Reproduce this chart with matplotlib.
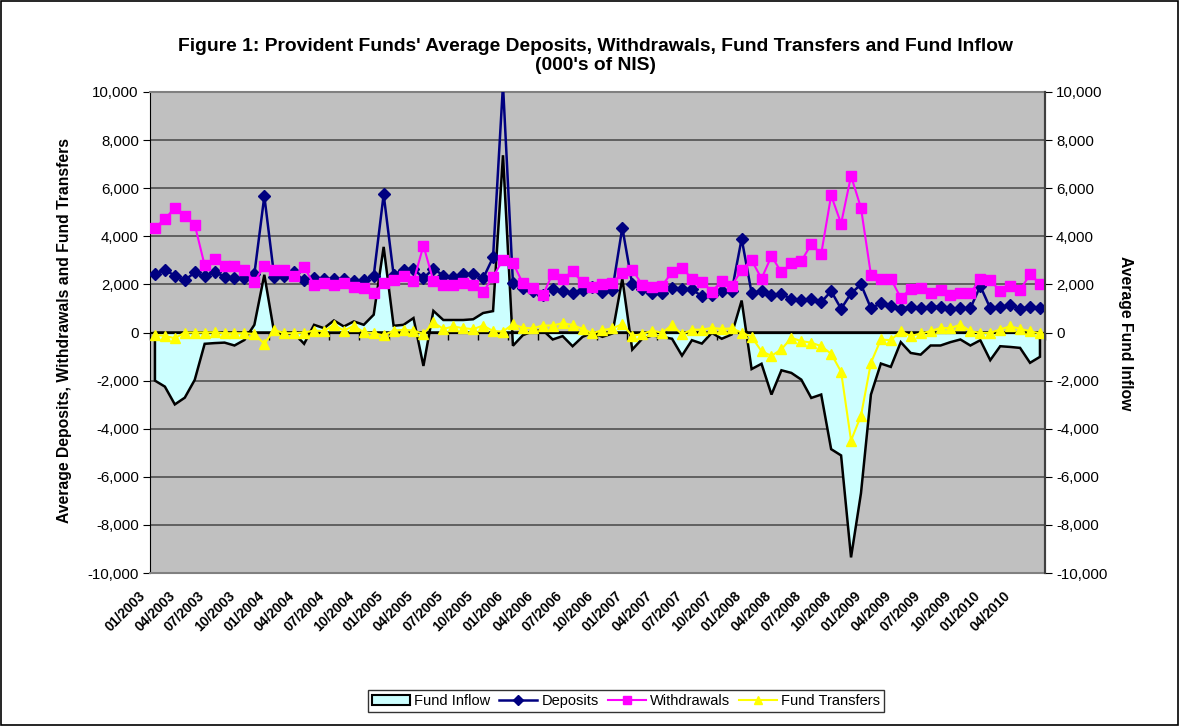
import matplotlib
matplotlib.use("Agg")
import matplotlib.pyplot as plt
from matplotlib.lines import Line2D
from matplotlib.patches import Patch, Rectangle
from matplotlib.ticker import FuncFormatter
from matplotlib.transforms import ScaledTranslation
import numpy as np

plt.rcParams["font.family"] = ["Liberation Sans", "DejaVu Sans"]

# monthly, 01/2003 .. 06/2010 (000's of NIS)
tick_labels = [
    "01/2003", "04/2003", "07/2003", "10/2003", "01/2004", "04/2004",
    "07/2004", "10/2004", "01/2005", "04/2005", "07/2005", "10/2005",
    "01/2006", "04/2006", "07/2006", "10/2006", "01/2007", "04/2007",
    "07/2007", "10/2007", "01/2008", "04/2008", "07/2008", "10/2008",
    "01/2009", "04/2009", "07/2009", "10/2009", "01/2010", "04/2010",
]

deposits = [
    2440, 2610, 2360, 2170, 2500, 2330, 2530, 2310, 2260, 2260, 2440, 5670,
    2310, 2360, 2500, 2170, 2260, 2220, 2220, 2220, 2130, 2170, 2360, 5740,
    2400, 2610, 2650, 2260, 2650, 2370, 2300, 2430, 2430, 2250, 3120, 10300,
    2070, 1860, 1720, 1580, 1820, 1720, 1650, 1760, 1900, 1680, 1760, 4360,
    2000, 1790, 1650, 1650, 1860, 1820, 1790, 1510, 1580, 1720, 1720, 3900,
    1650, 1720, 1540, 1620, 1375, 1350, 1375, 1260, 1720, 985, 1625, 2000,
    1010, 1210, 1100, 985, 1070, 1010, 1070, 1070, 985, 1010, 1010, 1930,
    1010, 1070, 1125, 985, 1070, 1010,
]

withdrawals = [
    4350, 4720, 5180, 4860, 4490, 2790, 3060, 2750, 2780, 2610, 2110, 2780,
    2580, 2580, 2360, 2720, 1990, 2060, 1990, 2060, 1890, 1850, 1640, 2060,
    2170, 2360, 2130, 3610, 2150, 1990, 1990, 2060, 1990, 1680, 2310, 3030,
    2900, 2040, 1870, 1550, 2450, 2220, 2550, 2080, 1910, 2000, 2070, 2480,
    2610, 1990, 1900, 1950, 2510, 2690, 2240, 2120, 1700, 2140, 1950, 2600,
    3010, 2240, 3180, 2500, 2870, 2970, 3670, 3270, 5700, 4530, 6510, 5180,
    2400, 2240, 2240, 1440, 1820, 1860, 1650, 1760, 1580, 1625, 1650, 2210,
    2180, 1720, 1930, 1760, 2420, 2030,
]

transfers = [
    -100, -140, -240, 0, 0, 0, 10, -30, -30, -30, -60, -470,
    110, -30, -30, 0, 80, 60, 320, 80, 280, 10, -30, -120,
    80, 110, 80, -60, 420, 150, 250, 180, 140, 290, 60, 40,
    350, 190, 180, 290, 290, 390, 310, 150, -30, 100, 170, 350,
    -150, -60, 80, -10, 310, -70, 120, 120, 190, 150, 170, 0,
    -180, -780, -970, -700, -220, -360, -420, -570, -880, -1630, -4490, -3460,
    -1260, -290, -320, 55, -150, -40, 55, 190, 180, 330, 55, -15,
    -15, 125, 260, 150, 55, -40,
]

fund_inflow = [
    -2000, -2250, -2990, -2710, -1970, -470, -440, -420, -540, -310, 320, 2400,
    -30, -60, -30, -470, 320, 180, 500, 250, 460, 320, 740, 3560,
    280, 320, 600, -1390, 900, 520, 520, 520, 550, 810, 890, 7370,
    -550, -110, 50, 100, -290, -150, -570, -180, -15, -180, -40, 2240,
    -710, -260, -125, -180, -260, -960, -320, -460, -15, -260, -80, 1330,
    -1520, -1300, -2580, -1570, -1680, -1960, -2720, -2580, -4850, -5110, -9350, -6680,
    -2580, -1290, -1430, -400, -850, -920, -540, -540, -400, -290, -540, -320,
    -1150, -570, -600, -640, -1260, -1010,
]

n = len(deposits)
x = np.arange(n)
fmt = FuncFormatter(lambda v, p: f"{int(v):,}")

fig = plt.figure(figsize=(11.79, 7.26), dpi=100)
fig.patch.set_facecolor("white")
ax = fig.add_axes([0.1272, 0.2107, 0.7591, 0.6626])
ax.set_facecolor("#c0c0c0")

# fund inflow area (right axis in the original, same scale)
ax.fill(np.r_[x[0], x, x[-1]], np.r_[0, fund_inflow, 0],
        facecolor="#ccffff", edgecolor="black", lw=1.8, zorder=2)
ax.axhline(0, color="black", lw=1.6, zorder=3)

ax.plot(x, deposits, color="#000080", lw=1.8, marker="D", ms=6,
        mfc="#000080", mec="#000080", zorder=5)
ax.plot(x, withdrawals, color="#ff00ff", lw=1.5, marker="s", ms=7,
        mfc="#ff00ff", mec="#ff00ff", zorder=6)
ax.plot(x, transfers, color="#ffff00", lw=1.5, marker="^", ms=7,
        mfc="#ffff00", mec="#ffff00", zorder=7)

ax.set_xlim(-0.5, n - 0.5)
ax.set_ylim(-10000, 10000)
ax.set_yticks(np.arange(-10000, 10001, 2000))
ax.yaxis.set_major_formatter(fmt)
ax.grid(axis="y", color="#505050", lw=1.2, zorder=1)
ax.set_axisbelow(True)
ax.tick_params(axis="y", direction="out", length=5, labelsize=10.8, pad=3)

ax.set_xticks(x[::3])
ax.set_xticklabels(tick_labels, rotation=45, ha="right", va="top",
                   rotation_mode="anchor", fontsize=10, fontweight="bold")
ax.tick_params(axis="x", length=0, pad=11)
shift = ScaledTranslation(-0.17, 0, fig.dpi_scale_trans)
for lab in ax.get_xticklabels():
    lab.set_transform(lab.get_transform() + shift)

for s in ("top", "bottom"):
    ax.spines[s].set_color("#808080")
    ax.spines[s].set_linewidth(1.5)
ax.spines["left"].set_color("black")
ax.spines["right"].set_color("#404040")
ax.spines["right"].set_linewidth(1.5)

# category axis crossing at zero, tick marks between groups of 3 months
sec = ax.secondary_xaxis(0.5)
sec.set_xticks(np.arange(-0.5, n, 3))
sec.xaxis.set_ticks_position("bottom")
sec.tick_params(axis="x", direction="out", length=5, width=1,
                labelbottom=False, labeltop=False, color="black")
for s in sec.spines.values():
    s.set_visible(False)

ax2 = ax.twinx()
ax2.set_ylim(-10000, 10000)
ax2.set_yticks(np.arange(-10000, 10001, 2000))
ax2.yaxis.set_major_formatter(fmt)
ax2.tick_params(axis="y", direction="out", length=5, labelsize=10.8, pad=3)
for s in ("top", "bottom", "left"):
    ax2.spines[s].set_visible(False)
ax2.spines["right"].set_color("#404040")
ax2.spines["right"].set_linewidth(1.5)

fig.text(0.505, 0.923,
         "Figure 1: Provident Funds' Average Deposits, Withdrawals, Fund Transfers and Fund Inflow\n(000's of NIS)",
         ha="center", va="center", fontsize=13.9, fontweight="bold", linespacing=1.15)
fig.text(0.055, 0.545, "Average Deposits, Withdrawals and Fund Transfers",
         rotation=90, ha="center", va="center", fontsize=11.3, fontweight="bold")
fig.text(0.955, 0.541, "Average Fund Inflow", rotation=270,
         ha="center", va="center", fontsize=11.3, fontweight="bold")

handles = [
    Patch(facecolor="#ccffff", edgecolor="black", lw=1.5),
    Line2D([], [], color="#000080", lw=1.8, marker="D", ms=5),
    Line2D([], [], color="#ff00ff", lw=1.5, marker="s", ms=6),
    Line2D([], [], color="#ffff00", lw=1.5, marker="^", ms=6),
]
leg = fig.legend(handles, ["Fund Inflow", "Deposits", "Withdrawals", "Fund Transfers"],
                 loc="center", bbox_to_anchor=(0.531, 0.0344), ncol=4,
                 fontsize=10.5, frameon=True, fancybox=False, edgecolor="black",
                 handlelength=2.6, handletextpad=0.3, columnspacing=0.6,
                 borderpad=0.3, borderaxespad=0)
leg.get_frame().set_linewidth(1.0)

fig.add_artist(Rectangle((0.001, 0.001), 0.998, 0.998, transform=fig.transFigure,
                         fill=False, edgecolor="black", lw=1.2))

fig.savefig("out.png", dpi=100)
